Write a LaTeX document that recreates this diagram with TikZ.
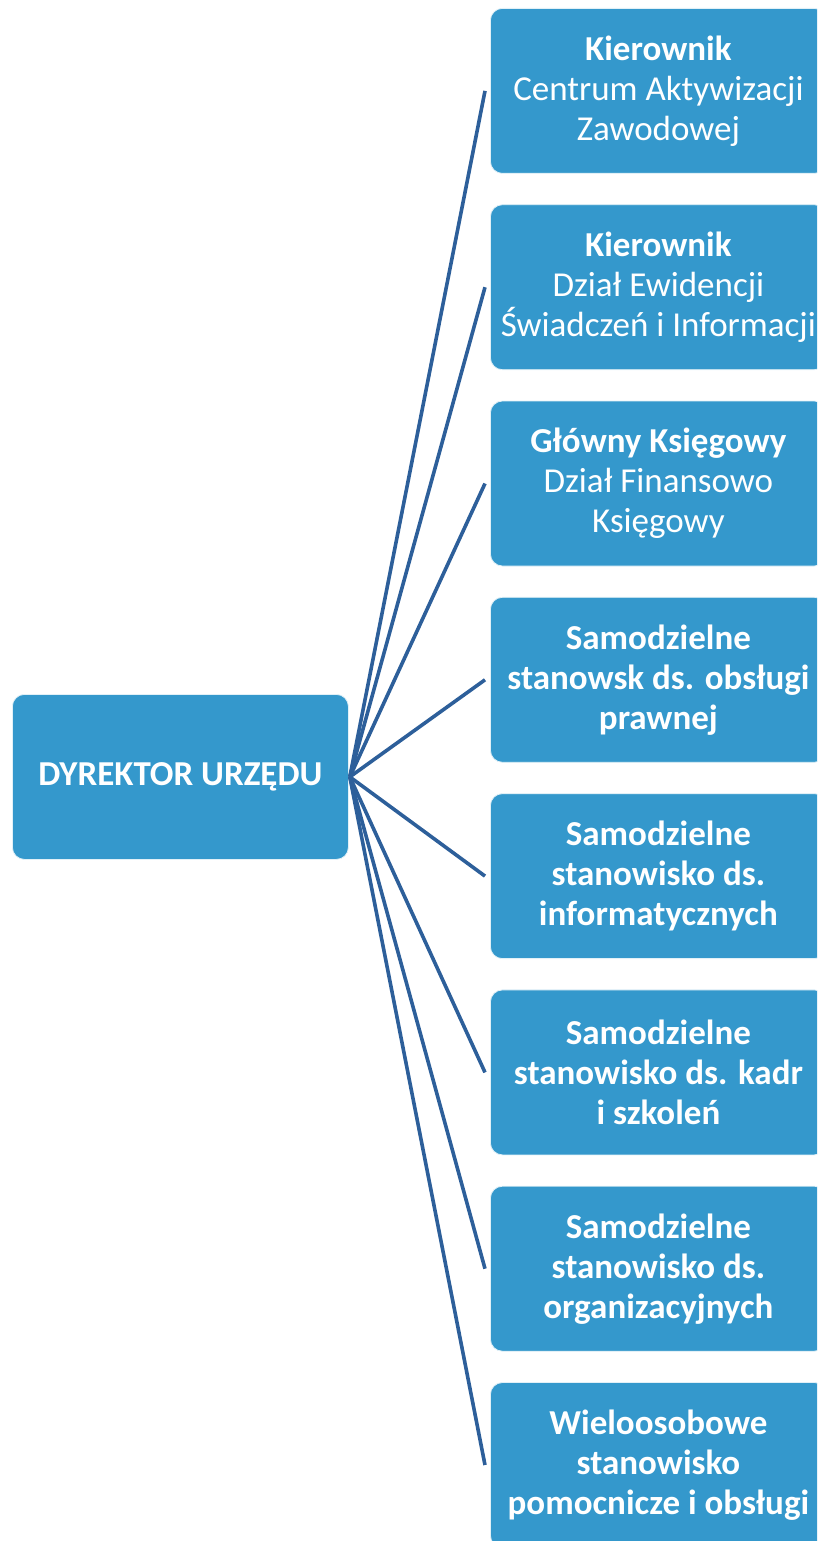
\documentclass[tikz,border=0pt]{standalone}
\usepackage{fontspec}
\setmainfont{Carlito}
\definecolor{boxblue}{HTML}{3498CC}
\definecolor{lineblue}{HTML}{2D5F9A}
\begin{document}
\begin{tikzpicture}[x=1pt,y=-1pt,
  unit/.style={fill=boxblue, draw=white!85!boxblue, line width=0.8pt, rounded corners=12pt,
    minimum width=336pt, minimum height=165pt, inner sep=0pt, text=white, align=center,
    font=\fontsize{35}{40}\selectfont},
  boldunit/.style={unit, font=\fontsize{35}{40}\selectfont\bfseries},
  conn/.style={draw=lineblue, line width=3.6pt}]
\useasboundingbox (0,0) rectangle (817,1541);
\clip (0,0) rectangle (817,1541);
\node[boldunit, anchor=north west] (dyr) at (12,694) {DYREKTOR URZĘDU};
\node[unit, anchor=north west] (b1) at (490,8) {\textbf{Kierownik}\\Centrum Aktywizacji\\Zawodowej};
\node[unit, anchor=north west] (b2) at (490,204.3) {\textbf{Kierownik}\\Dział Ewidencji\\Świadczeń i Informacji};
\node[unit, anchor=north west] (b3) at (490,400.6) {\textbf{Główny Księgowy}\\Dział Finansowo\\Księgowy};
\node[boldunit, anchor=north west] (b4) at (490,596.9) {Samodzielne\\stanowsk ds. obsługi\\prawnej};
\node[boldunit, anchor=north west] (b5) at (490,793.2) {Samodzielne\\stanowisko ds.\\informatycznych};
\node[boldunit, anchor=north west] (b6) at (490,989.5) {Samodzielne\\stanowisko ds. kadr\\i szkoleń};
\node[boldunit, anchor=north west] (b7) at (490,1185.8) {Samodzielne\\stanowisko ds.\\organizacyjnych};
\node[boldunit, anchor=north west] (b8) at (490,1382.1) {Wieloosobowe\\stanowisko\\pomocnicze i obsługi};
\foreach \b in {b1,b2,b3,b4,b5,b6,b7,b8}
  \draw[conn] ([xshift=1pt]dyr.east) -- ([xshift=-5pt]\b.west);
\end{tikzpicture}
\end{document}
